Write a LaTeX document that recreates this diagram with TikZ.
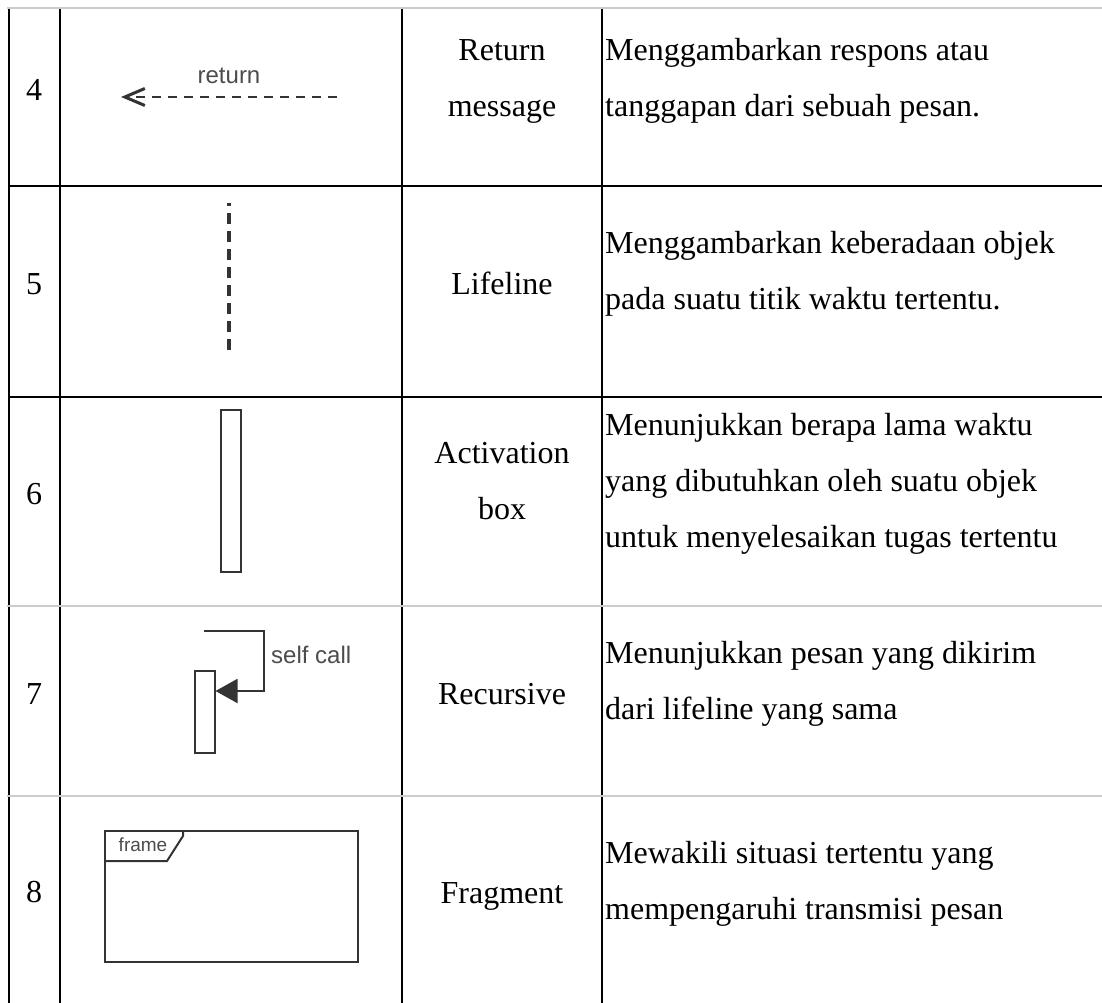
\documentclass[tikz,border=0pt]{standalone}
\usepackage{fontspec}
\setmainfont{Liberation Serif}
\newfontfamily\drawsans{Liberation Sans}
\usetikzlibrary{arrows.meta, positioning}

\begin{document}
\begin{tikzpicture}[x=1pt, y=-1pt, >={Straight Barb[length=20pt, width=17pt, line width=3pt]},
  rule/.style={line width=2.6pt},
  faint/.style={draw=gray!40, line width=1.6pt},
  uml/.style={draw=black!80, line width=2pt},
  txt/.style={inner sep=0pt, font=\fontsize{32}{56}\selectfont, execute at begin node=\strut, execute at end node=\strut},
  num/.style={txt},
  term/.style={txt, align=center},
  desc/.style={txt, align=left, anchor=west},
  tag/.style={inner sep=0pt, text=black!70, font=\drawsans\fontsize{24}{24}\selectfont},
  bar/.style={uml, inner sep=0pt, minimum width=20pt}]
\useasboundingbox (0,0) rectangle (1102,1003);
\foreach \x in {9,60,402,602} \draw[rule] (\x,8) -- (\x,1003);
\foreach \y in {186,397} \draw[rule] (9,\y) -- (1102,\y);
\foreach \y in {8,606,796} \draw[faint] (7,\y) -- (1102,\y);

\foreach \n/\y in {4/89, 5/283, 6/493, 7/693, 8/891} \node[num] (n\n) at (34,\y) {\n};

\node[term] (t4) at (502,86) {Return\\message};
\node[term] (t5) at (502,283) {Lifeline};
\node[term] (t6) at (502,489) {Activation\\box};
\node[term] (t7) at (502,693) {Recursive};
\node[term] (t8) at (502,892) {Fragment};

\node[desc] (d4) at (605,86) {Menggambarkan respons atau\\tanggapan dari sebuah pesan.};
\node[desc] (d5) at (605,279) {Menggambarkan keberadaan objek\\pada suatu titik waktu tertentu.};
\node[desc] (d6) at (605,489) {Menunjukkan berapa lama waktu\\yang dibutuhkan oleh suatu objek\\untuk menyelesaikan tugas tertentu};
\node[desc] (d7) at (605,689) {Menunjukkan pesan yang dikirim\\dari lifeline yang sama};
\node[desc] (d8) at (605,889) {Mewakili situasi tertentu yang\\mempengaruhi transmisi pesan};

\coordinate (ret from) at (337,97);
\coordinate (ret to) at (121,97);
\draw[uml, line width=2.4pt, ->, dash pattern=on 9pt off 7pt] (ret from) -- node[tag, above=12pt] (ret lbl) {return} (ret to);

\coordinate (life top) at (229,203);
\coordinate (life end) at (229,353);
\draw[uml, line width=3.2pt, dash pattern=on 11pt off 7pt, dash phase=8pt] (life top) -- (life end);

\node[bar, minimum height=162pt] (act) at (230.5,491) {};

\node[bar, minimum height=82pt] (rec) at (204.5,711.5) {};
\coordinate (call start) at (204,631);
\coordinate (call turn) at (264,691);
\draw[uml, -{Triangle[length=22pt, width=24pt]}] (call start) -| (call turn) -- (call turn -| rec.east);
\node[tag, anchor=west] (call lbl) at (271,655) {self call};

\node[uml, inner sep=0pt, minimum width=253pt, minimum height=131pt, anchor=north west] (frag) at (104,830) {};
\draw[uml] ([yshift=-31pt]frag.north west) -- ++(63,0) -- ++(16,-25) -- ++(0,-6);
\node[tag, font=\drawsans\fontsize{19}{19}\selectfont] (frag lbl) at (143,845) {frame};
\end{tikzpicture}
\end{document}
